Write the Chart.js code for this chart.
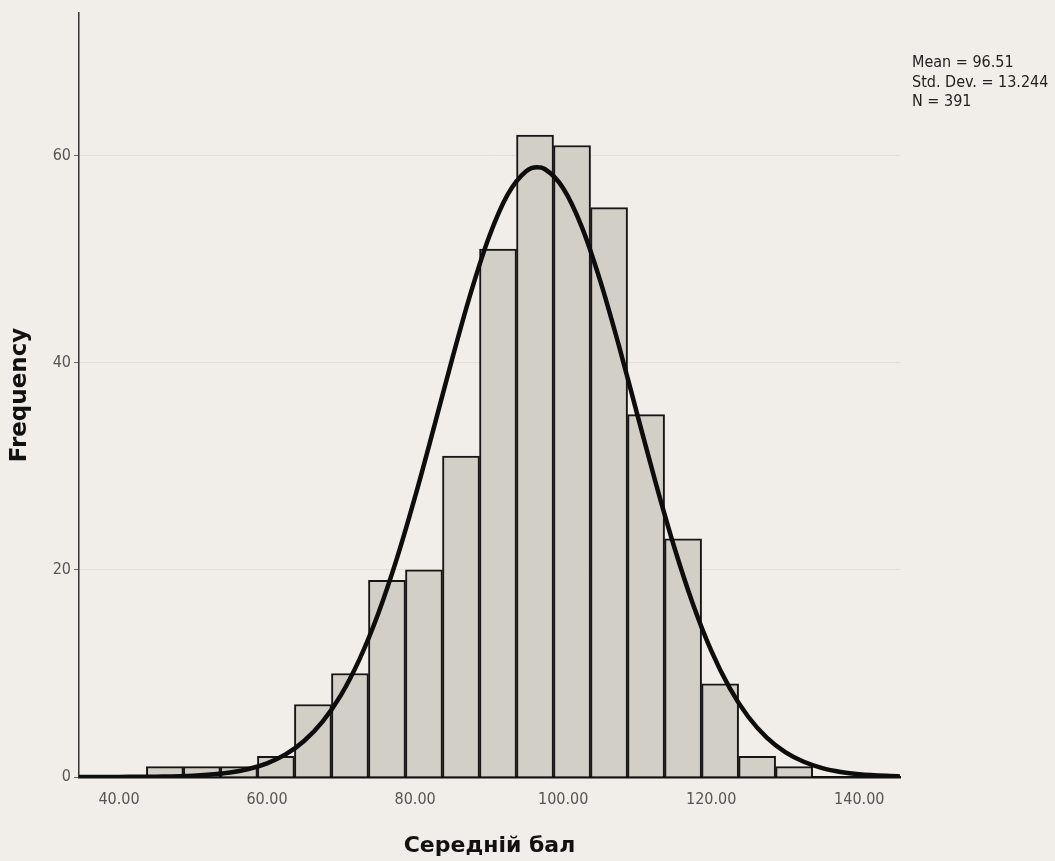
<!DOCTYPE html>
<html>
<head>
<meta charset="utf-8">
<script src="https://cdn.jsdelivr.net/npm/chart.js@4.4.1/dist/chart.umd.min.js"></script>
<style>
  html, body { margin: 0; padding: 0; background: #f1eee9; }
  #wrap { position: relative; width: 1055px; height: 861px; }
  #stats { position: absolute; left: 912px; top: 52px; font: 16px "DejaVu Sans Condensed", "Liberation Sans Narrow", "DejaVu Sans", sans-serif;
           line-height: 19.5px; color: #222; white-space: nowrap; }
</style>
</head>
<body>
<div id="wrap">
  <canvas id="c" width="1055" height="861"></canvas>
  <div id="stats">Mean = 96.51<br>Std. Dev. = 13.244<br>N = 391</div>
</div>
<script>
"use strict";
// histogram bins (centre of each 5-point bin) and their counts
const binCenters = [46.2, 51.2, 56.2, 61.2, 66.2, 71.2, 76.2, 81.2, 86.2, 91.2, 96.2, 101.2, 106.2, 111.2, 116.2, 121.2, 126.2, 131.2];
const binCounts  = [1, 1, 1, 2, 7, 10, 19, 20, 31, 51, 62, 61, 55, 35, 23, 9, 2, 1];

// fitted normal curve
const curveX = [34.6, 40, 45, 50, 55, 57.5, 60, 62.5, 65, 67.5, 70, 72.5, 75, 77.5, 80, 82.5, 85, 87.5, 90, 92.5, 95, 96.5,
                97.5, 100, 102.5, 105, 107.5, 110, 112.5, 115, 117.5, 120, 122.5, 125, 127.5, 130, 132.5, 135, 137.5, 140, 145.5];
const curveY = [0.0, 0.01, 0.03, 0.12, 0.43, 0.77, 1.32, 2.18, 3.48, 5.35, 7.94, 11.39, 15.75, 21.02, 27.08, 33.65, 40.37, 46.72, 52.19, 56.25, 58.51, 58.89,
                58.73, 56.88, 53.17, 47.95, 41.74, 35.06, 28.41, 22.22, 16.77, 12.21, 8.59, 5.82, 3.81, 2.41, 1.47, 0.86, 0.49, 0.27, 0.06];

const xTicks = [40, 60, 80, 100, 120, 140];
const yTicks = [0, 20, 40, 60];

const tickFont = { family: '"DejaVu Sans Condensed", "Liberation Sans Narrow", "DejaVu Sans", sans-serif', size: 16 };
const titleFont = { family: '"DejaVu Sans", sans-serif', weight: "bold" };

new Chart(document.getElementById("c"), {
  type: "bar",
  data: { datasets: [
    { type: "line", data: curveX.map((x, i) => ({ x, y: curveY[i] })), borderColor: "#0d0d0d", borderWidth: 4.5,
      pointRadius: 0, cubicInterpolationMode: "monotone", fill: false, order: 0 },
    { type: "bar", data: binCenters.map((x, i) => ({ x, y: binCounts[i] })), backgroundColor: "#d2cfc7",
      borderColor: "#161616", borderWidth: 2, barPercentage: 1, categoryPercentage: 1, grouped: false, order: 1 }
  ]},
  options: {
    responsive: false, animation: false,
    layout: { padding: { top: 13, right: 155, left: 0, bottom: 0 } },
    plugins: { legend: { display: false }, tooltip: { enabled: false } },
    scales: {
      x: { type: "linear", min: 34.6, max: 145.5, offset: false,
        afterBuildTicks: s => { s.ticks = xTicks.map(v => ({ value: v })); },
        afterFit: s => { s.height = 84; },
        grid: { display: false, drawTicks: false },
        border: { display: true, color: "#111", width: 2.5 },
        ticks: { callback: v => v.toFixed(2), font: tickFont, color: "#555", padding: 13, maxRotation: 0 },
        title: { display: true, text: "Середній бал", color: "#111", font: { ...titleFont, size: 22 }, padding: { top: 0, bottom: 2 } } },
      y: { min: 0, max: 73.8,
        afterBuildTicks: s => { s.ticks = yTicks.map(v => ({ value: v })); },
        afterFit: s => { s.width = 79; },
        grid: { color: "#e2dfd9", lineWidth: 1, tickLength: 5, tickColor: "#666" },
        border: { display: true, color: "#333", width: 1.5 },
        ticks: { font: tickFont, color: "#555", padding: 3 },
        title: { display: true, text: "Frequency", color: "#111", font: { ...titleFont, size: 23 }, padding: { top: 6, bottom: 0 } } }
    }
  }
});
</script>
</body>
</html>
